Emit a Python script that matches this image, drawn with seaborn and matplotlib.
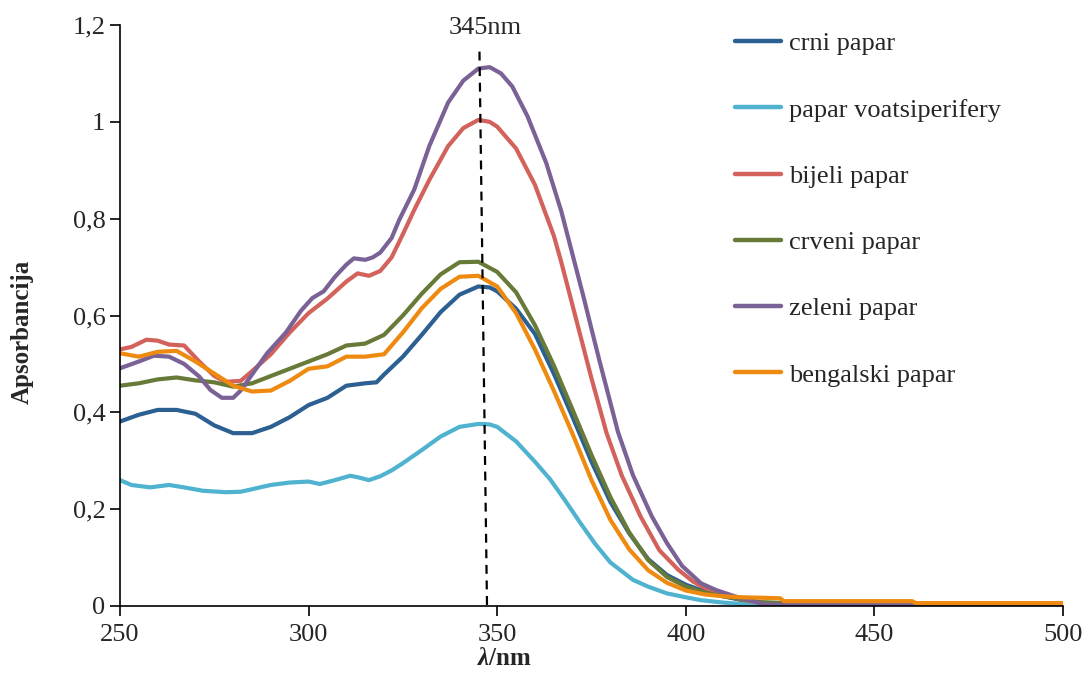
import numpy as np
import pandas as pd
import matplotlib
matplotlib.use("Agg")
import matplotlib.pyplot as plt
import seaborn as sns

# UV spectra of pepper extracts
crni_x = [250, 255, 260, 265, 270, 275, 280, 285, 290, 295, 300, 305, 310, 315, 318, 320, 325, 330, 335, 340,
          345, 348, 350, 355, 360, 365, 370, 375, 380, 385, 390, 395, 400, 405, 410, 415, 420, 430, 500]
crni_y = [0.381, 0.395, 0.405, 0.405, 0.397, 0.373, 0.357, 0.357, 0.37, 0.39, 0.415, 0.43, 0.455, 0.46, 0.462,
          0.478, 0.515, 0.56, 0.607, 0.643, 0.66, 0.658, 0.65, 0.614, 0.562, 0.48, 0.39, 0.298, 0.215, 0.15,
          0.097, 0.064, 0.044, 0.03, 0.02, 0.012, 0.006, 0.003, 0.003]

voats_x = [250, 253, 258, 263, 267, 272, 278, 282, 286, 290, 295, 300, 303, 307, 311, 313, 316, 319, 322, 325,
           330, 335, 340, 345, 348, 350, 355, 360, 364, 368, 372, 376, 380, 386, 390, 395, 400, 404, 410, 415,
           420, 500]
voats_y = [0.26, 0.25, 0.245, 0.25, 0.245, 0.238, 0.235, 0.236, 0.243, 0.25, 0.255, 0.257, 0.252, 0.26, 0.269,
           0.266, 0.26, 0.268, 0.28, 0.295, 0.322, 0.35, 0.37, 0.376, 0.375, 0.37, 0.34, 0.298, 0.262, 0.218,
           0.172, 0.128, 0.09, 0.054, 0.04, 0.026, 0.018, 0.012, 0.007, 0.004, 0.002, 0.002]

bijeli_x = [250, 253, 257, 260, 263, 267, 271, 275, 278, 282, 285, 290, 295, 300, 305, 310, 313, 316, 319, 322,
            325, 328, 332, 337, 341, 345, 348, 350, 355, 360, 365, 367, 370, 372, 375, 379, 383, 388, 393, 398,
            402, 406, 411, 417, 422, 430, 500]
bijeli_y = [0.53, 0.535, 0.55, 0.548, 0.54, 0.538, 0.505, 0.475, 0.463, 0.465, 0.485, 0.52, 0.565, 0.605, 0.635,
            0.67, 0.687, 0.682, 0.692, 0.72, 0.768, 0.818, 0.88, 0.95, 0.987, 1.004, 1.0, 0.99, 0.945, 0.87,
            0.765, 0.71, 0.62, 0.56, 0.47, 0.357, 0.27, 0.185, 0.115, 0.075, 0.05, 0.033, 0.02, 0.01, 0.004,
            0.002, 0.002]

crveni_x = [250, 255, 260, 265, 270, 275, 280, 285, 290, 295, 300, 305, 310, 315, 320, 325, 330, 335, 340, 345,
            350, 355, 360, 365, 370, 375, 380, 385, 390, 395, 400, 405, 410, 415, 420, 430, 500]
crveni_y = [0.455, 0.46, 0.468, 0.472, 0.466, 0.462, 0.453, 0.46, 0.475, 0.49, 0.505, 0.52, 0.538, 0.542, 0.56,
            0.60, 0.645, 0.685, 0.71, 0.711, 0.69, 0.648, 0.58, 0.497, 0.405, 0.312, 0.225, 0.152, 0.095, 0.06,
            0.04, 0.028, 0.02, 0.014, 0.008, 0.005, 0.005]

zeleni_x = [250, 255, 259, 263, 267, 271, 274, 277, 280, 282, 285, 289, 294, 298, 301, 304, 307, 310, 312, 315,
            317, 319, 322, 324, 328, 332, 337, 341, 345, 348, 351, 354, 358, 363, 367, 370, 373, 375, 377, 379,
            382, 386, 391, 395, 399, 404, 408, 413, 417, 421, 500]
zeleni_y = [0.491, 0.505, 0.517, 0.515, 0.5, 0.474, 0.446, 0.43, 0.43, 0.445, 0.478, 0.522, 0.565, 0.61, 0.636,
            0.65, 0.68, 0.705, 0.718, 0.715, 0.72, 0.73, 0.76, 0.797, 0.86, 0.95, 1.04, 1.085, 1.11, 1.113, 1.1,
            1.073, 1.012, 0.915, 0.815, 0.725, 0.635, 0.572, 0.51, 0.45, 0.36, 0.27, 0.185, 0.13, 0.083, 0.047,
            0.033, 0.02, 0.012, 0.003, 0.002]

beng_x = [250, 255, 260, 265, 270, 275, 280, 285, 290, 295, 300, 305, 310, 315, 320, 325, 330, 335, 340, 345,
          350, 355, 360, 365, 370, 375, 380, 385, 390, 395, 400, 405, 410, 415, 420, 425, 426, 460, 461, 500]
beng_y = [0.522, 0.515, 0.525, 0.527, 0.505, 0.48, 0.455, 0.443, 0.445, 0.465, 0.49, 0.495, 0.515, 0.515, 0.52,
          0.565, 0.615, 0.655, 0.68, 0.682, 0.66, 0.605, 0.53, 0.445, 0.355, 0.26, 0.178, 0.117, 0.074, 0.048,
          0.032, 0.024, 0.02, 0.018, 0.017, 0.016, 0.01, 0.01, 0.006, 0.006]

names = ["crni papar", "papar voatsiperifery", "bijeli papar", "crveni papar", "zeleni papar", "bengalski papar"]
colors = ["#2C5F92", "#4FB3CF", "#D2625B", "#677A38", "#7A6196", "#EE8A10"]

# peak marker (dashed line at 345 nm)
peak_x = [345.3, 347.3]
peak_y = [1.145, 0.0]

y_ticks = [0, 0.2, 0.4, 0.6, 0.8, 1.0, 1.2]
y_labels = ["0", "0,2", "0,4", "0,6", "0,8", "1", "1,2"]
x_ticks = [250, 300, 350, 400, 450, 500]

frames = []
for nm, xs, ys in zip(names, [crni_x, voats_x, bijeli_x, crveni_x, zeleni_x, beng_x],
                      [crni_y, voats_y, bijeli_y, crveni_y, zeleni_y, beng_y]):
    frames.append(pd.DataFrame({"nm": xs, "A": ys, "uzorak": nm}))
df = pd.concat(frames, ignore_index=True)

sns.set_style("ticks")
plt.rcParams["font.family"] = ["Liberation Serif", "DejaVu Serif"]
plt.rcParams["mathtext.fontset"] = "custom"
plt.rcParams["mathtext.bf"] = "Liberation Serif:bold:italic"
plt.rcParams["mathtext.rm"] = "Liberation Serif"

fig = plt.figure(figsize=(10.87, 6.75), dpi=100)
ax = fig.add_axes([120 / 1087, 69 / 675, 943 / 1087, 581 / 675])

sns.lineplot(data=df, x="nm", y="A", hue="uzorak", hue_order=names, palette=colors,
             estimator=None, sort=False, lw=3, ax=ax)

ax.plot(peak_x, peak_y, color="black", lw=1.6, ls=(0, (4, 3)), zorder=5)
ax.text(346.8, 1.194, "345nm", ha="center", va="center", fontsize=19, clip_on=False)

ax.set_xlim(250, 500)
ax.set_ylim(0, 1.2)
ax.set_xticks(x_ticks)
ax.set_yticks(y_ticks)
ax.set_yticklabels(y_labels)
ax.tick_params(axis="both", labelsize=19, length=7, width=1.2, direction="out", color="black")
ax.tick_params(axis="x", pad=6)
sns.despine(ax=ax)
for s in ["left", "bottom"]:
    ax.spines[s].set_linewidth(1.2)
    ax.spines[s].set_color("black")

ax.set_ylabel("Apsorbancija", fontsize=18, fontweight="bold")
ax.set_xlabel(r"$\mathbf{\lambda}$/nm", fontsize=18, fontweight="bold")
ax.yaxis.set_label_coords(-0.091, 0.472)
ax.xaxis.set_label_coords(0.408, -0.07)

handles, labels = ax.get_legend_handles_labels()
for h in handles:
    h.set_linewidth(3.2)
ax.legend(handles, labels, loc="upper left", bbox_to_anchor=(735 / 1087, 1 - 32 / 675),
          bbox_transform=fig.transFigure, frameon=False, fontsize=19, handlelength=1.75,
          handletextpad=0.3, labelspacing=1.62, borderpad=0, borderaxespad=0)

fig.savefig("out.png", dpi=100)
